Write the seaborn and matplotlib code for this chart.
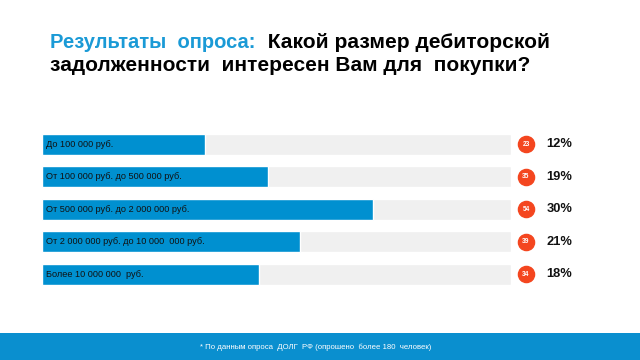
import numpy as np
import pandas as pd
import seaborn as sns
import matplotlib.pyplot as plt
from matplotlib.patches import Rectangle

# данные опроса
categories = ['До 100 000 руб.', 'От 100 000 руб. до 500 000 руб.', 'От 500 000 руб. до 2 000 000 руб.',
              'От 2 000 000 руб. до 10 000  000 руб.', 'Более 10 000 000  руб.']
counts = [23, 35, 54, 39, 34]
percents = [12, 19, 30, 21, 18]
fill = [34.8, 48.1, 70.5, 55.1, 46.2]  # длина синей полосы, % от серой дорожки

BLUE = '#0090d0'
GRAY = '#f0f0f0'
RED = '#f4461f'
W, H = 640, 360

sns.set_style('white')
plt.rcParams['font.family'] = ['Liberation Sans', 'DejaVu Sans']

df = pd.DataFrame({'cat': categories, 'fill': fill, 'track': [100] * len(categories)})

fig = plt.figure(figsize=(6.4, 3.6), dpi=100)
top, bottom = 126.4, 292.1
ax = fig.add_axes([42 / W, 1 - bottom / H, 469 / W, (bottom - top) / H])

sns.barplot(data=df, x='track', y='cat', color=GRAY, width=0.65, ax=ax, saturation=1)
sns.barplot(data=df, x='fill', y='cat', color=BLUE, width=0.65, ax=ax, saturation=1)
ax.set_xlim(0, 100)
ax.set_axis_off()

for i, c in enumerate(categories):
    ax.text(0.9, i, c, va='center', ha='left', fontsize=6.6, color='#111111')

ax.scatter([103.2] * len(counts), range(len(counts)), s=135, color=RED, clip_on=False, zorder=5)
for i, (n, p) in enumerate(zip(counts, percents)):
    ax.text(103.2, i, str(n), ha='center', va='center', fontsize=4.8, color='white',
            fontweight='bold', zorder=6, clip_on=False)
    ax.text(107.6, i, f'{p}%', ha='left', va='center', fontsize=9.3, fontweight='bold',
            color='#111111', clip_on=False)

# заголовок
t1 = fig.text(50 / W, 1 - 48 / H, 'Результаты  опроса:', fontsize=14.5, fontweight='bold',
              color='#1a9ad6', va='baseline')
ax.annotate('  Какой размер дебиторской', xy=(1, 0), xycoords=t1, fontsize=15.1,
            fontweight='bold', color='black', va='bottom', ha='left', annotation_clip=False)
fig.text(50 / W, 1 - 71 / H, 'задолженности  интересен Вам для  покупки?', fontsize=15,
         fontweight='bold', color='black', va='baseline')

# нижняя полоса
fig.add_artist(Rectangle((0, 0), 1, 27 / H, transform=fig.transFigure, color='#0a8fcf', lw=0))
fig.text(316 / W, 1 - 347 / H, '* По данным опроса  ДОЛГ  РФ (опрошено  более 180  человек)',
         ha='center', va='center', fontsize=5.55, color='white')

fig.savefig('out.png', dpi=100)
